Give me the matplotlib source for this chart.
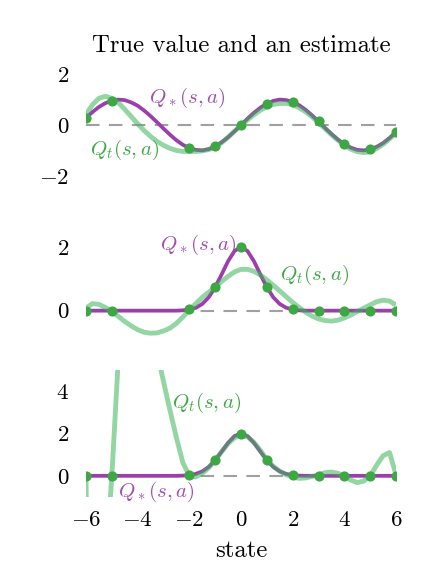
import numpy as np
import matplotlib
matplotlib.use("Agg")
import matplotlib.pyplot as plt

plt.rcParams['font.family'] = ['cmr10', 'DejaVu Serif']
plt.rcParams['mathtext.fontset'] = 'cm'
plt.rcParams['axes.formatter.use_mathtext'] = True
plt.rcParams['axes.unicode_minus'] = True

# ---------------- data ----------------
state_grid = np.linspace(-6, 6, 49)          # x positions, 0.25 apart
sample_states = [-6, -5, -2, -1, 0, 1, 2, 3, 4, 5, 6]

# panel 1: true value (sine shaped) and estimate
q_true_1 = [0.28, 0.51, 0.71, 0.86, 0.96, 1.00, 0.98, 0.89, 0.76, 0.57, 0.35, 0.11,
            -0.14, -0.38, -0.60, -0.78, -0.91, -0.98, -1.00, -0.95, -0.84, -0.68, -0.48, -0.25,
            0.00, 0.25, 0.48, 0.68, 0.84, 0.95, 1.00, 0.98, 0.91, 0.78, 0.60, 0.38,
            0.14, -0.11, -0.35, -0.57, -0.76, -0.89, -0.98, -1.00, -0.96, -0.86, -0.71, -0.51,
            -0.28]
q_est_1 = [0.42, 0.80, 1.05, 1.13, 1.05, 0.88, 0.62, 0.33, 0.05, -0.22, -0.45, -0.65,
           -0.80, -0.92, -1.00, -1.04, -1.04, -1.04, -1.02, -0.97, -0.87, -0.70, -0.48, -0.24,
           -0.02, 0.20, 0.40, 0.58, 0.72, 0.81, 0.85, 0.85, 0.80, 0.68, 0.52, 0.32,
           0.10, -0.14, -0.38, -0.60, -0.80, -0.95, -1.05, -1.09, -1.05, -0.93, -0.76, -0.55,
           -0.30]
samples_1 = [0.28, 0.96, -0.91, -0.84, 0.00, 0.84, 0.91, 0.14, -0.76, -0.96, -0.28]

# panels 2 and 3: true value (bump shaped)
q_true_bump = [0.0] * 15 + [0.01, 0.04, 0.09, 0.21, 0.42, 0.74, 1.14, 1.56, 1.88, 2.00,
                            1.88, 1.56, 1.14, 0.74, 0.42, 0.21, 0.09, 0.04, 0.01] + [0.0] * 15
samples_bump = [0.00, 0.00, 0.04, 0.74, 2.00, 0.74, 0.04, 0.00, 0.00, 0.00, 0.00]

q_est_2 = [0.08, 0.22, 0.20, 0.10, -0.02, -0.18, -0.34, -0.48, -0.60, -0.68, -0.71, -0.70,
           -0.64, -0.55, -0.40, -0.20, 0.02, 0.22, 0.42, 0.58, 0.74, 0.92, 1.08, 1.22,
           1.30, 1.30, 1.24, 1.12, 0.97, 0.80, 0.62, 0.44, 0.26, 0.10, -0.05, -0.17,
           -0.26, -0.31, -0.33, -0.30, -0.23, -0.14, -0.03, 0.08, 0.18, 0.28, 0.33, 0.30,
           0.18]
q_est_3 = [0.00, -25.0, -40.0, -4.5, 0.00, 5.5, 11.0, 16.0, 18.0, 16.0, 11.0, 5.85,
           4.45, 3.10, 1.80, 0.62, 0.00, -0.05, 0.12, 0.38, 0.74, 1.14, 1.52, 1.80,
           1.92, 1.85, 1.58, 1.20, 0.76, 0.45, 0.22, 0.05, -0.06, -0.12, -0.10, -0.03,
           0.05, 0.15, 0.18, 0.12, 0.00, -0.20, -0.32, -0.25, 0.00, 0.50, 0.95, 1.10,
           0.05]

x_ticks = [-6, -4, -2, 0, 2, 4, 6]
y_ticks = [[-2, 0, 2], [0, 2], [0, 2, 4]]
y_limits = [(-2.5, 2.5), (-1, 3), (-1, 5)]

# ---------------- style ----------------
PURPLE = '#9B3FAB'
PURPLE_TXT = '#A24CB0'
GREEN_LINE = '#3CB45A'
GREEN_DOT = '#3DA843'
GREEN_TXT = '#3FA845'
FS = 15
FS_TICK = 16.5
FS_BIG = 17.8

fig = plt.figure(figsize=(4.23, 5.81), dpi=100)
left, width, height = 86 / 423, 310 / 423, 127 / 581
bottoms = [(581 - 188.5) / 581, (581 - 342.4) / 581, (581 - 497) / 581]

panels = [
    (q_true_1, q_est_1, samples_1),
    (q_true_bump, q_est_2, samples_bump),
    (q_true_bump, q_est_3, samples_bump),
]

axes = []
for i, (qt, qe, smp) in enumerate(panels):
    ax = fig.add_axes([left, bottoms[i], width, height])
    axes.append(ax)
    ax.axhline(0, color='#A0A0A0', lw=1.5, dashes=(6.5, 4.5), zorder=1)
    ax.plot(state_grid, qt, color=PURPLE, lw=2.7, zorder=2, solid_capstyle='butt')
    ax.plot(state_grid, qe, color=GREEN_LINE, alpha=0.55, lw=3.5, zorder=3,
            solid_capstyle='butt')
    ax.plot(sample_states, smp, 'o', color=GREEN_DOT, ms=7.3, mew=0, zorder=4)
    ax.set_xlim(-6, 6)
    ax.set_ylim(*y_limits[i])
    ax.set_yticks(y_ticks[i])
    ax.set_xticks(x_ticks)
    for s in ax.spines.values():
        s.set_visible(False)
    ax.tick_params(length=0, labelsize=FS_TICK)
    ax.tick_params(axis='y', pad=12)
    ax.tick_params(axis='x', pad=10)
    ax.patch.set_visible(False)
    if i < 2:
        ax.tick_params(axis='x', labelbottom=False)

axes[0].set_title('True value and an estimate', fontsize=FS_BIG, pad=7)
axes[2].set_xlabel('state', fontsize=FS_BIG, labelpad=7)

lab_star = r'$Q_*(s,a)$'
lab_t = r'$Q_t(s,a)$'
axes[0].text(-3.55, 1.07, lab_star, color=PURPLE_TXT, fontsize=FS, ha='left', va='center')
axes[0].text(-5.85, -0.98, lab_t, color=GREEN_TXT, fontsize=FS, ha='left', va='center')
axes[1].text(-3.14, 2.07, lab_star, color=PURPLE_TXT, fontsize=FS, ha='left', va='center')
axes[1].text(1.50, 1.12, lab_t, color=GREEN_TXT, fontsize=FS, ha='left', va='center')
axes[2].text(-2.69, 3.43, lab_t, color=GREEN_TXT, fontsize=FS, ha='left', va='center')
axes[2].text(-4.76, -0.74, lab_star, color=PURPLE_TXT, fontsize=FS, ha='left', va='center')

fig.savefig('out.png', dpi=100)
